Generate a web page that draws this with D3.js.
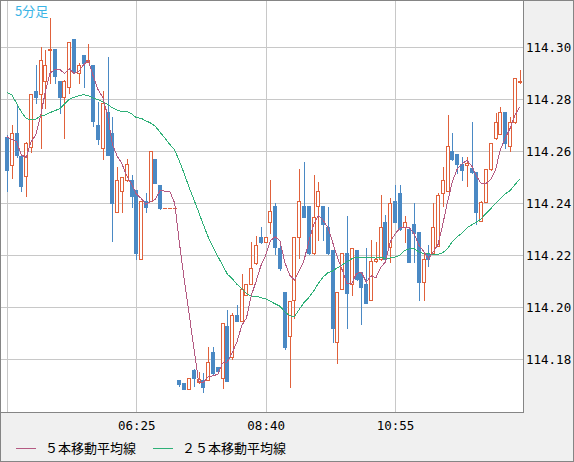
<!DOCTYPE html>
<html>
<head>
<meta charset="utf-8">
<script src="https://cdn.jsdelivr.net/npm/d3@7"></script>
<style>
  body{margin:0;padding:0;background:#f0f0f0;}
  svg{display:block;}
</style>
</head>
<body>
<div class="content"></div>
<script>
const SVGWIDTH = 574;
const SVGHEIGHT = 462;
const PLOT_RIGHT = 523;
const PLOT_BOTTOM = 412;

// 5分足 candles, 04:10 .. 13:05
const open = [
114.2656,114.2549,114.2669,114.2582,114.2506,114.2618,114.2833,114.2819,114.2869,114.2990,
114.2994,114.2870,114.2810,114.2849,114.3031,114.2900,114.2970,114.2944,114.2932,114.2701,
114.2612,114.2753,114.2672,114.2368,114.2449,114.2488,114.2490,114.2451,114.2187,114.2408,
114.2408,114.2569,114.2469,114.2383,114.2383,114.2383,114.1720,114.1707,114.1687,114.1759,
114.1714,114.1720,114.1720,114.1827,114.1769,114.1727,114.1928,114.1808,114.1971,114.1949,
114.2047,114.2089,114.2170,114.2270,114.2252,114.2328,114.2390,114.2227,114.2057,114.1889,
114.2028,114.2272,114.2390,114.2390,114.2207,114.2390,114.2390,114.2310,114.2220,114.1868,
114.2070,114.2207,114.2089,114.2220,114.2134,114.2089,114.2028,114.2179,114.2184,114.2328,
114.2233,114.2409,114.2439,114.2310,114.2300,114.2320,114.2290,114.2099,114.2207,114.2207,
114.2236,114.2441,114.2449,114.2603,114.2588,114.2551,114.2547,114.2534,114.2519,114.2331,
114.2406,114.2531,114.2650,114.2667,114.2750,114.2620,114.2711,114.2865];
const high = [
114.2662,114.2701,114.2777,114.2585,114.2637,114.2820,114.2932,114.3000,114.2990,114.3113,
114.2995,114.2870,114.2875,114.3020,114.3031,114.2938,114.2970,114.3013,114.2932,114.2791,
114.2833,114.2962,114.2731,114.2538,114.2501,114.2569,114.2509,114.2452,114.2410,114.2438,
114.2601,114.2570,114.2470,114.2383,114.2383,114.2383,114.1722,114.1707,114.1727,114.1762,
114.1752,114.1746,114.1849,114.1846,114.1770,114.1940,114.1989,114.1977,114.2009,114.2129,
114.2090,114.2252,114.2275,114.2309,114.2271,114.2489,114.2400,114.2240,114.2057,114.2026,
114.2270,114.2531,114.2560,114.2391,114.2509,114.2480,114.2391,114.2387,114.2221,114.2059,
114.2208,114.2351,114.2228,114.2221,114.2135,114.2227,114.2259,114.2252,114.2432,114.2354,
114.2419,114.2471,114.2471,114.2351,114.2301,114.2400,114.2291,114.2207,114.2240,114.2400,
114.2438,114.2538,114.2740,114.2672,114.2589,114.2577,114.2579,114.2714,114.2520,114.2407,
114.2532,114.2632,114.2746,114.2772,114.2751,114.2733,114.2882,114.2913];
const low = [
114.2449,114.2499,114.2580,114.2449,114.2429,114.2599,114.2787,114.2612,114.2765,114.2864,
114.2862,114.2749,114.2650,114.2823,114.2905,114.2862,114.2846,114.2944,114.2697,114.2628,
114.2570,114.2585,114.2256,114.2368,114.2368,114.2485,114.2387,114.2187,114.2187,114.2368,
114.2407,114.2477,114.2380,114.2383,114.2383,114.2383,114.1697,114.1686,114.1687,114.1697,
114.1710,114.1676,114.1720,114.1745,114.1755,114.1688,114.1717,114.1800,114.1948,114.1948,
114.2046,114.2088,114.2168,114.2249,114.2251,114.2284,114.2204,114.2144,114.1839,114.1695,
114.1960,114.2188,114.2348,114.2206,114.2206,114.2259,114.2259,114.2206,114.1868,114.1787,
114.2069,114.1919,114.2047,114.2106,114.1936,114.2016,114.2027,114.2175,114.2183,114.2181,
114.2175,114.2327,114.2299,114.2250,114.2176,114.2176,114.2028,114.2028,114.2159,114.2206,
114.2235,114.2389,114.2448,114.2568,114.2515,114.2490,114.2468,114.2518,114.2320,114.2330,
114.2405,114.2530,114.2649,114.2666,114.2612,114.2603,114.2710,114.2862];
const close = [
114.2528,114.2669,114.2587,114.2468,114.2631,114.2819,114.2810,114.2950,114.2931,114.2994,
114.2891,114.2810,114.2870,114.3019,114.2909,114.2930,114.2938,114.2951,114.2718,114.2649,
114.2785,114.2586,114.2400,114.2490,114.2500,114.2551,114.2428,114.2208,114.2408,114.2387,
114.2600,114.2478,114.2381,114.2383,114.2383,114.2383,114.1705,114.1687,114.1727,114.1727,
114.1723,114.1695,114.1791,114.1746,114.1756,114.1938,114.1718,114.1970,114.1949,114.2070,
114.2088,114.2150,114.2239,114.2250,114.2270,114.2370,114.2231,114.2150,114.1846,114.2025,
114.2270,114.2408,114.2349,114.2207,114.2349,114.2449,114.2321,114.2207,114.1919,114.2058,
114.2207,114.2056,114.2227,114.2107,114.2078,114.2017,114.2178,114.2184,114.2307,114.2187,
114.2400,114.2328,114.2300,114.2328,114.2176,114.2287,114.2099,114.2186,114.2186,114.2308,
114.2432,114.2490,114.2620,114.2569,114.2551,114.2530,114.2556,114.2519,114.2368,114.2406,
114.2531,114.2631,114.2711,114.2750,114.2631,114.2711,114.2881,114.2870];

// moving average values before enough candles are on screen
const ma5Head = [114.2656,114.2646,114.2637,114.2586];
const ma25Head = [
114.2826,114.2817,114.2785,114.2751,114.2726,114.2721,114.2724,114.2735,114.2740,114.2749,
114.2756,114.2764,114.2782,114.2800,114.2808,114.2814,114.2818,114.2813,114.2805,114.2799,
114.2790,114.2780,114.2767,114.2758];

const yTicks = [114.18,114.20,114.22,114.24,114.26,114.28,114.30];
const xGridIdx = [0,27,54,81];
const xTickIdx = [27,54,81];
const xTickLabels = ["06:25","08:40","10:55"];
const legendNames = ["５本移動平均線","２５本移動平均線"];

const UP_COLOR = "#e0613b";
const DOWN_COLOR = "#4a89c4";
const MA5_COLOR = "#b45a82";
const MA25_COLOR = "#2eb077";
const GRID_COLOR = "#c8c8c8";
const BORDER_COLOR = "#858585";

// moving average over close, head values used where the window is not full
function movingAverage(n, head){
    return close.map((c,i)=>{
        if(i < n-1) return head[i];
        return d3.mean(close.slice(i-n+1,i+1));
    });
}
const ma5 = movingAverage(5, ma5Head);
const ma25 = movingAverage(25, ma25Head);

let x = d3.scaleLinear().domain([0,107]).range([7,519.5]);
let y = d3.scaleLinear().domain([114.18,114.30]).range([359.3,47.3]);
const px = v=>Math.round(v)+0.5;

let svg = d3.select(".content").append("svg").attr("width",SVGWIDTH).attr("height",SVGHEIGHT);
svg.append("rect").attr("x",0.5).attr("y",0.5).attr("width",SVGWIDTH-1).attr("height",SVGHEIGHT-1)
    .attr("fill","#f0f0f0").attr("stroke",BORDER_COLOR);
svg.append("rect").attr("x",1).attr("y",1).attr("width",PLOT_RIGHT-1).attr("height",PLOT_BOTTOM-1).attr("fill","#fff");
svg.append("clipPath").attr("id","plotclip").append("rect").attr("x",1).attr("y",1).attr("width",PLOT_RIGHT-1).attr("height",PLOT_BOTTOM-1);

//grid lines
let grid = svg.append("g").attr("shape-rendering","crispEdges");
grid.selectAll("line.h").data(yTicks).join("line").attr("class","h")
    .attr("x1",1).attr("x2",PLOT_RIGHT).attr("y1",d=>px(y(d))).attr("y2",d=>px(y(d)))
    .attr("stroke",GRID_COLOR);
grid.selectAll("line.v").data(xGridIdx).join("line").attr("class","v")
    .attr("x1",d=>px(x(d))).attr("x2",d=>px(x(d))).attr("y1",1).attr("y2",PLOT_BOTTOM)
    .attr("stroke",GRID_COLOR);

let plot = svg.append("g").attr("clip-path","url(#plotclip)");

//candles
let idx = d3.range(close.length);
let candles = plot.append("g").attr("shape-rendering","crispEdges").selectAll("g").data(idx).join("g");
candles.append("line")
    .attr("x1",i=>px(x(i))).attr("x2",i=>px(x(i)))
    .attr("y1",i=>Math.round(y(high[i]))).attr("y2",i=>Math.round(y(low[i]))+1)
    .attr("stroke",i=>close[i]>=open[i]?UP_COLOR:DOWN_COLOR);
candles.each(function(i){
    let g = d3.select(this);
    let cx = Math.round(x(i));
    let top = Math.round(y(Math.max(open[i],close[i])));
    let bot = Math.round(y(Math.min(open[i],close[i])));
    if(close[i]>=open[i]){
        if(bot-top<1){
            g.append("line").attr("x1",cx-2).attr("x2",cx+2).attr("y1",top+0.5).attr("y2",top+0.5).attr("stroke",UP_COLOR);
        }else{
            g.append("rect").attr("x",cx-1.5).attr("y",top+0.5).attr("width",3).attr("height",bot-top)
                .attr("fill","#fff").attr("stroke",UP_COLOR);
        }
    }else{
        g.append("rect").attr("x",cx-2).attr("y",top).attr("width",4).attr("height",Math.max(1,bot-top+1))
            .attr("fill",DOWN_COLOR);
    }
});

//moving averages
let line = d3.line().x((d,i)=>x(i)).y(d=>y(d));
plot.append("path").attr("d",line(ma25)).attr("fill","none").attr("stroke",MA25_COLOR).attr("stroke-width",1).attr("shape-rendering","crispEdges");
plot.append("path").attr("d",line(ma5)).attr("fill","none").attr("stroke",MA5_COLOR).attr("stroke-width",1).attr("shape-rendering","crispEdges");

//plot border
svg.append("path").attr("d","M0.5,0.5H"+(PLOT_RIGHT+0.5)+"V"+(PLOT_BOTTOM+0.5)+"H0.5Z")
    .attr("fill","none").attr("stroke",BORDER_COLOR).attr("shape-rendering","crispEdges");

//price axis
let yAxis = d3.axisRight(y).tickValues(yTicks).tickSize(0).tickPadding(3).tickFormat(d3.format(".2f"));
svg.append("g").attr("transform","translate("+PLOT_RIGHT+",0)").call(yAxis)
    .call(g=>g.select(".domain").remove())
    .selectAll("text").attr("font-family","'DejaVu Sans Mono', monospace").attr("font-size",12.5).attr("fill","#000");

//time axis
let xAxis = d3.axisBottom(x).tickValues(xTickIdx).tickSize(0).tickPadding(9)
    .tickFormat((d,i)=>xTickLabels[i]);
svg.append("g").attr("transform","translate(0,"+PLOT_BOTTOM+")").call(xAxis)
    .call(g=>g.select(".domain").remove())
    .selectAll("text").attr("font-family","'DejaVu Sans Mono', monospace").attr("font-size",12.5).attr("fill","#000");

//title label
svg.append("text").text("5分足").attr("x",15).attr("y",16)
    .attr("font-family","'Noto Sans CJK JP', sans-serif").attr("font-size",13).attr("fill","#3ab4e6");

//legend
let legend = svg.append("g").selectAll("g").data(legendNames).join("g")
    .attr("transform",(d,i)=>"translate("+(i===0?16:153)+",448)");
legend.append("line").attr("x1",0).attr("x2",20).attr("y1",0.5).attr("y2",0.5)
    .attr("stroke",(d,i)=>i===0?MA5_COLOR:MA25_COLOR).attr("shape-rendering","crispEdges");
legend.append("text").text(d=>d).attr("x",29).attr("y",5)
    .attr("font-family","'Noto Sans CJK JP', sans-serif").attr("font-size",13).attr("fill","#000");
</script>
</body>
</html>
